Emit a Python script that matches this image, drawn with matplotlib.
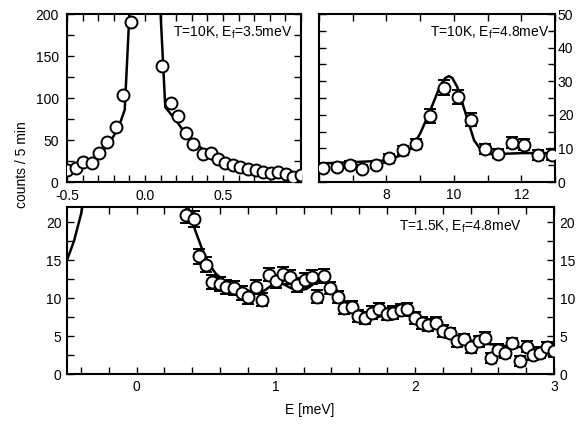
import matplotlib
matplotlib.use("Agg")
import matplotlib.pyplot as plt
from matplotlib.ticker import MultipleLocator, FixedLocator
import numpy as np

plt.rcParams['font.family'] = ['Liberation Sans', 'DejaVu Sans']
plt.rcParams['font.size'] = 10

# ---------------- Panel A: T=10K, Ef=3.5meV ----------------
a_E = [-0.50, -0.44, -0.395, -0.342, -0.293, -0.246, -0.186, -0.139, -0.09,
       0.107, 0.164, 0.213, 0.263, 0.31, 0.37, 0.421, 0.47, 0.513, 0.566,
       0.609, 0.662, 0.712, 0.758, 0.805, 0.854, 0.902, 0.95, 1.0]
a_c = [14, 17, 24, 23, 34, 48, 66, 104, 191,
       138, 94, 78, 58, 45, 33, 34, 27, 23, 20,
       18, 16, 14, 12, 11, 12, 10, 6, 8]
a_fitL_E = [-0.5, -0.45, -0.4, -0.35, -0.3, -0.25, -0.2, -0.16, -0.13, -0.1, -0.09]
a_fitL_c = [12, 15, 19, 24, 31, 41, 55, 70, 86, 200, 240]
a_fitR_E = [0.09, 0.1, 0.13, 0.2, 0.25, 0.3, 0.37, 0.45, 0.5, 0.6, 0.7, 0.8, 0.9, 1.0]
a_fitR_c = [240, 200, 89, 73, 60, 50, 39, 31, 27, 20, 14, 8, 5, 4]

# ---------------- Panel B: T=10K, Ef=4.8meV ----------------
b_E = [6.13, 6.54, 6.92, 7.28, 7.70, 8.09, 8.49, 8.89, 9.28, 9.71, 10.12,
       10.50, 10.92, 11.31, 11.71, 12.09, 12.51, 12.92]
b_c = [4.2, 4.5, 5.2, 4.0, 5.2, 7.0, 9.4, 11.4, 19.6, 28.1, 25.3,
       18.6, 9.9, 8.4, 11.7, 11.1, 7.9, 8.1]
b_err = [1.0, 1.0, 1.0, 1.0, 1.0, 1.2, 1.3, 1.5, 2.0, 2.3, 2.2,
         2.0, 1.5, 1.4, 1.7, 1.7, 1.5, 1.6]
b_fit_E = [6.0, 7.0, 8.0, 8.5, 8.8, 9.0, 9.3, 9.6, 9.75, 9.85, 9.95, 10.1,
           10.35, 10.6, 10.85, 11.1, 11.5, 12.0, 12.5, 13.0]
b_fit_c = [5.5, 5.9, 6.4, 8.2, 11.0, 14.4, 21.3, 28.8, 31.0, 31.5, 31.0, 28.3,
           20.4, 12.4, 8.9, 8.3, 8.4, 8.6, 8.6, 8.6]

# ---------------- Panel C: T=1.5K, Ef=4.8meV ----------------
c_E = [0.358, 0.412, 0.448, 0.50, 0.545, 0.598, 0.646, 0.70, 0.755, 0.80,
       0.856, 0.90, 0.95, 1.0, 1.05, 1.10, 1.15, 1.21, 1.26, 1.30, 1.345,
       1.39, 1.45, 1.49, 1.545, 1.59, 1.64, 1.69, 1.745, 1.797, 1.845, 1.90,
       1.945, 2.0, 2.05, 2.095, 2.15, 2.20, 2.25, 2.30, 2.35, 2.405, 2.46,
       2.505, 2.55, 2.60, 2.65, 2.70, 2.755, 2.807, 2.85, 2.90, 2.95, 3.0]
c_c = [21.0, 20.4, 15.5, 14.4, 12.1, 11.9, 11.5, 11.3, 10.7, 10.1,
       11.5, 9.8, 13.1, 12.2, 13.2, 12.8, 11.7, 12.4, 12.8, 10.2, 12.9,
       11.3, 10.1, 8.7, 8.8, 7.6, 7.4, 8.1, 8.5, 7.9, 8.1, 8.4,
       8.5, 7.4, 6.7, 6.4, 6.7, 5.7, 5.4, 4.3, 4.6, 3.5, 4.3,
       4.8, 2.1, 3.2, 2.8, 4.1, 1.7, 3.6, 2.5, 2.8, 3.5, 3.0]
c_err = [1.1, 1.1, 1.0, 1.0, 0.9, 0.9, 0.9, 0.9, 0.9, 0.9,
         0.9, 0.9, 0.9, 0.9, 0.9, 0.9, 0.9, 0.9, 0.9, 0.9, 0.9,
         0.8, 0.8, 0.8, 0.8, 0.8, 0.8, 0.8, 0.8, 0.8, 0.8, 0.8,
         0.8, 0.8, 0.8, 0.8, 0.8, 0.8, 0.7, 0.7, 0.7, 0.7, 0.7,
         0.7, 0.7, 0.7, 0.7, 0.7, 0.7, 0.7, 0.7, 0.7, 0.7, 0.7]
c_fitL_E = [-0.5, -0.45, -0.4, -0.38]
c_fitL_c = [15.0, 17.5, 21.0, 23.0]
c_fitR_E = [0.36, 0.37, 0.42, 0.47, 0.52, 0.57, 0.65, 0.75, 0.85, 0.92, 0.98,
            1.03, 1.1, 1.15, 1.22, 1.3, 1.36, 1.42, 1.5, 1.58, 1.65, 1.72,
            1.8, 1.88, 1.95, 2.05, 2.15, 2.25, 2.35, 2.5, 2.7, 3.0]
c_fitR_c = [23.0, 22.0, 19.0, 16.5, 14.5, 13.2, 12.0, 11.2, 10.8, 11.0, 11.8,
            12.1, 11.4, 11.0, 11.2, 12.2, 12.6, 11.5, 9.5, 8.0, 7.3, 7.4,
            7.9, 8.2, 8.0, 7.0, 6.0, 5.2, 4.6, 4.0, 3.6, 3.4]

W, H = 582, 424
fig = plt.figure(figsize=(W / 100, H / 100), dpi=100)

def fr(l, t, r, b):
    return [l / W, 1 - b / H, (r - l) / W, (b - t) / H]

axA = fig.add_axes(fr(67, 14, 301, 182))
axB = fig.add_axes(fr(319, 14, 555, 182))
axC = fig.add_axes(fr(67, 207, 554, 374))

mk = dict(marker='o', ms=8.6, mfc='white', mec='black', mew=1.4, ls='none', zorder=3)
ebk = dict(ecolor='black', elinewidth=1.2, capsize=4, capthick=1.2)

# Panel A
axA.plot(a_fitL_E, a_fitL_c, color='black', lw=1.8, zorder=2)
axA.plot(a_fitR_E, a_fitR_c, color='black', lw=1.8, zorder=2)
axA.plot(a_E, a_c, **mk)
axA.set_xlim(-0.5, 1.0)
axA.set_ylim(0, 200)
axA.xaxis.set_major_locator(FixedLocator([-0.5, 0.0, 0.5]))
axA.set_xticklabels(['-0.5', '0.0', '0.5'])
axA.xaxis.set_minor_locator(MultipleLocator(0.1))
axA.yaxis.set_major_locator(MultipleLocator(50))
axA.yaxis.set_minor_locator(MultipleLocator(25))
axA.text(0.965, 0.89, r'T=10K, E$_{\mathregular{f}}$=3.5meV', transform=axA.transAxes,
         ha='right', va='center', fontsize=10)

# Panel B
axB.plot(b_fit_E, b_fit_c, color='black', lw=1.8, zorder=2)
axB.errorbar(b_E, b_c, yerr=b_err, **mk, **ebk)
axB.set_xlim(6, 13)
axB.set_ylim(0, 50)
axB.xaxis.set_major_locator(FixedLocator([8, 10, 12]))
axB.xaxis.set_minor_locator(MultipleLocator(1))
axB.yaxis.set_major_locator(MultipleLocator(10))
axB.yaxis.set_minor_locator(MultipleLocator(5))
axB.text(0.975, 0.89, r'T=10K, E$_{\mathregular{f}}$=4.8meV', transform=axB.transAxes,
         ha='right', va='center', fontsize=10)

# Panel C
axC.plot(c_fitL_E, c_fitL_c, color='black', lw=1.8, zorder=2)
axC.plot(c_fitR_E, c_fitR_c, color='black', lw=1.8, zorder=2)
axC.errorbar(c_E, c_c, yerr=c_err, **mk, **ebk)
axC.set_xlim(-0.5, 3.0)
axC.set_ylim(0, 22)
axC.xaxis.set_major_locator(FixedLocator([0, 1, 2, 3]))
axC.xaxis.set_minor_locator(MultipleLocator(0.2))
axC.yaxis.set_major_locator(MultipleLocator(5))
axC.yaxis.set_minor_locator(MultipleLocator(2.5))
axC.text(0.935, 0.88, r'T=1.5K, E$_{\mathregular{f}}$=4.8meV', transform=axC.transAxes,
         ha='right', va='center', fontsize=10)

for ax in (axA, axB, axC):
    for s in ax.spines.values():
        s.set_linewidth(1.5)
    ax.tick_params(which='both', direction='in', top=True, right=True,
                   width=1.0, labelsize=10)
    ax.tick_params(which='major', length=5)
    ax.tick_params(which='minor', length=5)
    ax.tick_params(axis='x', pad=4.5)

axA.tick_params(axis='y', labelleft=True, labelright=False, pad=6)
axA.tick_params(axis='x', pad=5)
axB.tick_params(axis='y', labelleft=False, labelright=True, pad=2)
axC.tick_params(axis='y', labelleft=True, labelright=True, pad=4)

fig.text(22 / W, 1 - 165 / H, 'counts / 5 min', rotation=90, ha='center', va='center', fontsize=10)
fig.text(310 / W, 1 - 410 / H, 'E [meV]', ha='center', va='center', fontsize=10)

fig.savefig('out.png', dpi=100)
